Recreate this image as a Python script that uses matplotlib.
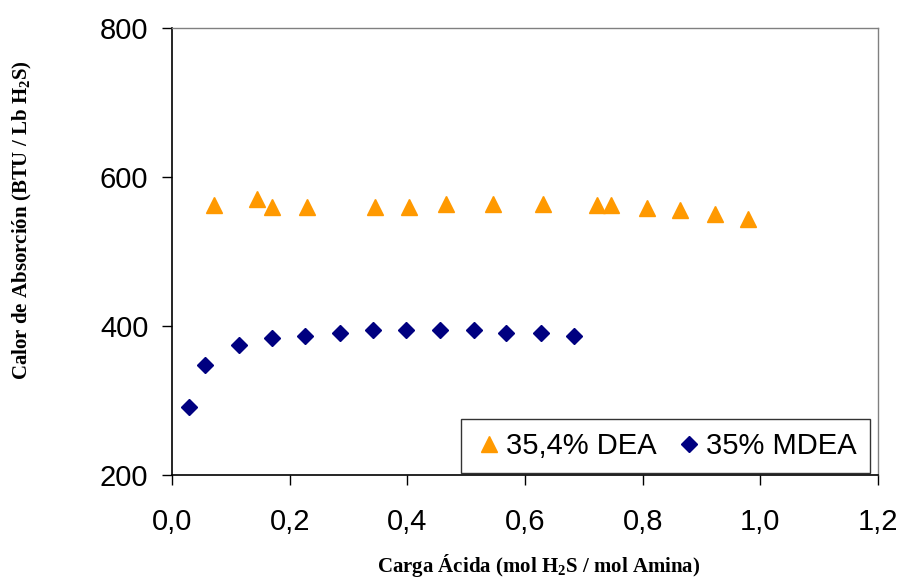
import numpy as np
import matplotlib.pyplot as plt

plt.rcParams['mathtext.fontset'] = 'custom'
plt.rcParams['mathtext.bf'] = 'Liberation Serif:bold'
plt.rcParams['mathtext.rm'] = 'Liberation Serif'

# Calor de absorción vs carga ácida
dea_x = [0.072, 0.145, 0.170, 0.230, 0.345, 0.402, 0.465, 0.546, 0.631, 0.722, 0.747, 0.807, 0.863, 0.923, 0.979]
dea_y = [563, 570, 560, 560, 560, 560, 564, 564, 564, 562, 562, 559, 556, 550, 543]

mdea_x = [0.029, 0.056, 0.114, 0.170, 0.226, 0.286, 0.342, 0.397, 0.456, 0.514, 0.567, 0.628, 0.683]
mdea_y = [291, 348, 375, 384, 387, 391, 395, 395, 395, 395, 391, 391, 387]

xticks = [0.0, 0.2, 0.4, 0.6, 0.8, 1.0, 1.2]
xticklabels = ["0,0", "0,2", "0,4", "0,6", "0,8", "1,0", "1,2"]
yticks = [200, 400, 600, 800]

fig = plt.figure(figsize=(9.04, 5.79), dpi=100)
ax = fig.add_axes([0.1903, 0.1796, 0.7809, 0.772])

ax.plot(dea_x, dea_y, '^', color='#FF9900', ms=12, mec='#FF9900', label="35,4% DEA", clip_on=False)
ax.plot(mdea_x, mdea_y, 'D', color='#000080', ms=8.5, mec='#000080', label="35% MDEA", clip_on=False)

ax.set_xlim(0, 1.2)
ax.set_ylim(200, 800)
ax.set_xticks(xticks)
ax.set_xticklabels(xticklabels)
ax.set_yticks(yticks)
ax.tick_params(direction='out', length=7, width=1, labelsize=21,
               labelfontfamily='Liberation Sans')
ax.tick_params(axis='x', pad=17)
ax.tick_params(axis='y', pad=10)

for s in ['top', 'right']:
    ax.spines[s].set_color('#808080')
    ax.spines[s].set_linewidth(1)
for s in ['left', 'bottom']:
    ax.spines[s].set_color('black')
    ax.spines[s].set_linewidth(1.2)

lab = dict(family='Liberation Serif', fontweight='bold', fontsize=15)
ax.set_xlabel(r"Carga Ácida (mol H$_\mathbf{2}$S / mol Amina)", **lab)
ax.xaxis.set_label_coords(0.519, -0.172)
ax.set_ylabel(r"Calor de Absorción (BTU / Lb H$_\mathbf{2}$S)", **lab)
ax.yaxis.set_label_coords(-0.195, 0.57)

leg = ax.legend(loc='lower right', bbox_to_anchor=(0.9887, 0.0045), borderaxespad=0,
                ncol=2, frameon=True, fancybox=False, edgecolor='black',
                handletextpad=0.1, columnspacing=0.6, borderpad=0.45, handlelength=1.0,
                prop={'family': 'Liberation Sans', 'size': 21})
leg.get_frame().set_linewidth(1)

fig.savefig("out.png", dpi=100)
